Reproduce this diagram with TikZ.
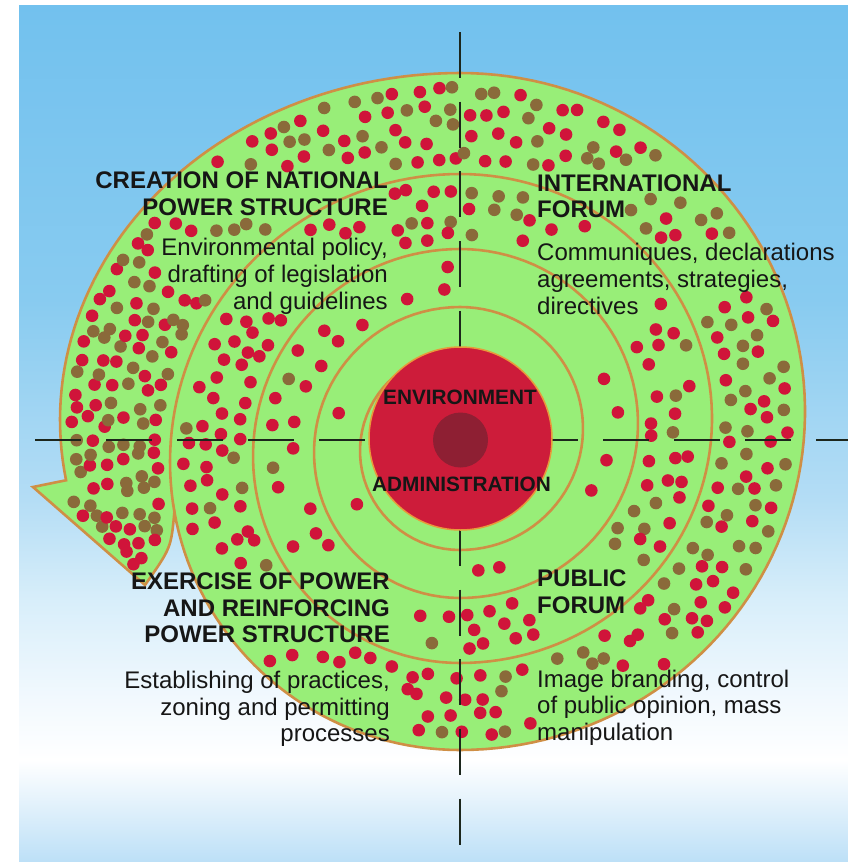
\documentclass[tikz,border=0pt]{standalone}
\usepackage{fontspec}
\setmainfont{Liberation Sans}
\definecolor{bgtop}{HTML}{72C1EE}
\definecolor{bgD}{HTML}{88CBF0}
\definecolor{bgC}{HTML}{B4DDF5}
\definecolor{bgB}{HTML}{D8EEFA}
\definecolor{bgA}{HTML}{F2F9FE}
\definecolor{bgbot}{HTML}{BDE0F7}
\definecolor{bandgreen}{HTML}{98EE78}
\definecolor{ringorange}{HTML}{CF8F45}
\definecolor{dotred}{HTML}{D0143A}
\definecolor{dotbrown}{HTML}{8A6A3A}
\definecolor{diskred}{HTML}{CD1C3A}
\definecolor{diskedge}{HTML}{E89A3A}
\definecolor{corered}{HTML}{8E1F33}
\definecolor{crossdark}{HTML}{1C261C}
\definecolor{txtdark}{HTML}{161616}
\pgfdeclareverticalshading{skybg}{100bp}{color(0bp)=(bgbot); color(25bp)=(bgbot); color(30.9bp)=(white); color(34.4bp)=(bgA); color(40.2bp)=(bgB); color(46.1bp)=(bgC); color(57.8bp)=(bgD); color(75bp)=(bgtop); color(100bp)=(bgtop)}

\newdimen\dotX \newdimen\dotY
\newif\ifdotin
\newcommand\chkbox[4]{\ifdim\dotX>#1pt\relax\ifdim\dotX<#2pt\relax\ifdim\dotY>#3pt\relax\ifdim\dotY<#4pt\relax\dotintrue\fi\fi\fi\fi}
\newcommand\placedot[3]{%
  \dotX=#1pt\relax\dotY=#2pt\relax\dotinfalse
  \chkbox{87}{394}{167}{196}\chkbox{136}{394}{194}{222}\chkbox{155}{394}{235}{264}%
  \chkbox{162}{394}{262}{291}\chkbox{221}{394}{288}{318}%
  \chkbox{531}{739}{170}{199}\chkbox{531}{631}{196}{224}\chkbox{531}{844}{239}{269}%
  \chkbox{531}{796}{266}{296}\chkbox{531}{646}{293}{323}%
  \chkbox{122}{396}{568}{596}\chkbox{154}{396}{595}{623}\chkbox{136}{396}{622}{650}%
  \chkbox{117}{396}{667}{697}\chkbox{152}{396}{694}{724}\chkbox{276}{396}{721}{750}%
  \chkbox{531}{631}{565}{594}\chkbox{531}{631}{592}{620}\chkbox{531}{796}{666}{696}%
  \chkbox{531}{791}{692}{722}\chkbox{531}{681}{719}{749}%
  \ifdotin\else
    \ifdim#3pt<\pbrown pt\relax
      \fill[dotbrown] (#1,#2) circle[radius=6.3];%
    \else
      \fill[dotred] (#1,#2) circle[radius=6.3];%
    \fi
  \fi}
% #1 cyo #2 rxo #3 ryo #4 cyi #5 rxi #6 ryi #7 th0 #8 th1 #9 width
\newcommand\banddots[9]{%
 \pgfmathtruncatemacro\bdN{max(1,round(#9/\dsp))}%
 \foreach \bj in {1,...,\bdN}{%
   \pgfmathsetmacro\bdT{(7+(#9-14)*(\bj-0.5)/\bdN)/#9}%
   \pgfmathsetmacro\bdR{(1-\bdT)*(#2+#3)/2+\bdT*(#5+#6)/2}%
   \pgfmathsetmacro\bdL{((#8-#7)*pi/180)}%
   \pgfmathtruncatemacro\bdM{max(1,round(\bdR*\bdL/\dsp))}%
   \foreach \bi in {1,...,\bdM}{%
     \pgfmathsetmacro\bdA{#7+(\bi-0.5+0.25*(2*mod(\bj,2)-1)+0.3*rand)*(#8-#7)/\bdM}%
     \pgfmathsetmacro\bdS{(7+(#9-14)*(\bj-0.5+0.22*rand)/\bdN)/#9}%
     \pgfmathsetmacro\dPx{460+((1-\bdS)*#2+\bdS*#5)*cos(\bdA)}%
     \pgfmathsetmacro\dPy{(1-\bdS)*(#1+#3*sin(\bdA))+\bdS*(#4+#6*sin(\bdA))}%
     \pgfmathsetmacro\dK{rnd}%
     \pgfmathsetmacro\dU{rnd}%
     \ifdim\dK pt<\pkeep pt\relax\placedot{\dPx}{\dPy}{\dU}\fi
   }%
 }%
}

\tikzset{
 spiralline/.style={draw=ringorange, line width=2.6pt},
 crossline/.style={draw=crossdark, line width=2.6pt},
 hdr/.style={font=\fontsize{24}{28}\selectfont\bfseries, text=txtdark, inner sep=0pt},
 bodytxt/.style={font=\fontsize{24}{28}\selectfont, text=txtdark, inner sep=0pt},
 ctrtxt/.style={font=\fontsize{20.8}{24}\selectfont\bfseries, text=txtdark, inner sep=0pt},
}

\begin{document}
\begin{tikzpicture}[x=1pt,y=-1pt]
\useasboundingbox (0,0) rectangle (848,862);
\fill[white] (0,0) rectangle (848,862);
\shade[shading=skybg] (19,5) rectangle (848,861);

\coordinate (tip) at (145,585);
\coordinate (barb) at (33,487);

% green spiral shape with arrowhead
\filldraw[spiralline, fill=bandgreen, line join=miter]
  plot[domain=-90:90,samples=90,variable=\t] ({460+345*cos(\t)},{411.5+338.5*sin(\t)})
  -- plot[domain=90:170,samples=40,variable=\t] ({460+290*cos(\t)},{462+288*sin(\t)})
  .. controls (171,548) .. (tip)
  -- (barb)
  -- plot[domain=170:270,samples=60,variable=\t] ({460+400*cos(\t)},{420+347*sin(\t)})
  -- cycle;

% inner spiral turns
\draw[spiralline]
  plot[domain=170:270,samples=50,variable=\t] ({460+290*cos(\t)},{462+288*sin(\t)})
  -- plot[domain=-90:90,samples=80,variable=\t] ({460+252*cos(\t)},{418.5+244.5*sin(\t)})
  -- plot[domain=90:270,samples=70,variable=\t] ({460+207*cos(\t)},{456+207*sin(\t)})
  -- plot[domain=-90:90,samples=60,variable=\t] ({460+178*cos(\t)},{423.5+174.5*sin(\t)})
  -- plot[domain=90:270,samples=50,variable=\t] ({460+146*cos(\t)},{452.5+145.5*sin(\t)})
  -- plot[domain=-90:90,samples=50,variable=\t] ({460+123*cos(\t)},{428.5+121.5*sin(\t)})
  -- plot[domain=90:270,samples=40,variable=\t] ({460+100*cos(\t)},{451+99*sin(\t)});

% dots
\pgfmathsetseed{4242}
\def\pkeep{0.93}\def\pbrown{0.47}\def\dsp{17}
\banddots{420}{400}{347}{462}{290}{288}{170}{232}{110}
\def\dsp{19}\def\pbrown{0.42}
\banddots{420}{400}{347}{462}{290}{288}{232}{270}{101}
\def\dsp{21.5}\def\pbrown{0.36}\def\pkeep{0.92}
\banddots{411.5}{345}{338.5}{418.5}{252}{244.5}{-90}{0}{94}
\def\pbrown{0.45}
\banddots{411.5}{345}{338.5}{418.5}{252}{244.5}{0}{90}{94}
\def\dsp{21.5}\def\pbrown{0.15}\def\pkeep{0.92}
\banddots{462}{290}{288}{456}{207}{207}{90}{270}{82}
\def\dsp{23}\def\pbrown{0.28}\def\pkeep{0.88}
\banddots{418.5}{252}{244.5}{423.5}{178}{174.5}{-90}{90}{71}
\def\dsp{29}\def\pbrown{0.08}\def\pkeep{0.85}
\banddots{456}{207}{207}{452.5}{146}{145.5}{90}{270}{61}
\def\dsp{40}\def\pbrown{0.05}\def\pkeep{0.45}
\banddots{423.5}{178}{174.5}{428.5}{123}{121.5}{-90}{90}{54}
\def\pkeep{0.4}
\banddots{452.5}{146}{145.5}{451}{100}{99}{90}{270}{46}
% arrowhead dots
\def\pkeep{0.95}\def\pbrown{0.47}
\foreach \gi in {0,...,9}{\foreach \gk in {0,...,7}{%
  \pgfmathsetmacro\dPx{36+\gi*14.5+4.3*rand+7.25*mod(\gk,2)}%
  \pgfmathsetmacro\dPy{490+\gk*13+3.9*rand}%
  \pgfmathsetmacro\cA{(141*(\dPy-487)-25*(\dPx-33))/143.2}%
  \pgfmathsetmacro\cB{(-29*(\dPy-512)-73*(\dPx-174))/78.5}%
  \pgfmathsetmacro\cC{(-112*(\dPy-585)+98*(\dPx-145))/148.8}%
  \pgfmathsetmacro\dU{rnd}%
  \ifdim\cA pt>6.5pt\relax\ifdim\cB pt>6.5pt\relax\ifdim\cC pt>6.5pt\relax\placedot{\dPx}{\dPy}{\dU}\fi\fi\fi
}}

% cross hair
\coordinate (hL) at (35,440);
\coordinate (hR) at (848,440);
\coordinate (vT) at (460,32);
\coordinate (vB) at (460,848);
\draw[crossline, dash pattern=on 46pt off 25pt] (hL) -- (hR);
\draw[crossline, dash pattern=on 46pt off 23.7pt] (vT) -- (vB);

% centre
\node[circle, fill=diskred, draw=diskedge, line width=1.5pt, minimum size=183pt, inner sep=0pt] (disk) at (460.5,438.5) {};
\node[circle, fill=corered, minimum size=55pt, inner sep=0pt] (core) at (460.5,440) {};
\node[ctrtxt, anchor=base] (env) at (460,404.5) {ENVIRONMENT};
\node[ctrtxt, anchor=base] (adm) at (461.5,491.5) {ADMINISTRATION};

% texts
\node[hdr, anchor=base east] (tlh1) at (388,188.5) {CREATION OF NATIONAL};
\node[hdr, anchor=base east] (tlh2) at (388,215) {POWER STRUCTURE};
\node[bodytxt, anchor=base east] (tlb1) at (388,255.7) {Environmental policy,};
\node[bodytxt, anchor=base east] (tlb2) at (388,282.5) {drafting of legislation};
\node[bodytxt, anchor=base east] (tlb3) at (388,309) {and guidelines};
\node[hdr, anchor=base west] (trh1) at (537,191.7) {INTERNATIONAL};
\node[hdr, anchor=base west] (trh2) at (537,217.3) {FORUM};
\node[bodytxt, anchor=base west] (trb1) at (537,260) {Communiques, declarations};
\node[bodytxt, anchor=base west] (trb2) at (537,287) {agreements, strategies,};
\node[bodytxt, anchor=base west] (trb3) at (537,314) {directives};
\node[hdr, anchor=base east] (blh1) at (390,589.3) {EXERCISE OF POWER};
\node[hdr, anchor=base east] (blh2) at (390,616) {AND REINFORCING};
\node[hdr, anchor=base east] (blh3) at (390,642.7) {POWER STRUCTURE};
\node[bodytxt, anchor=base east] (blb1) at (390,688.3) {Establishing of practices,};
\node[bodytxt, anchor=base east] (blb2) at (390,715) {zoning and permitting};
\node[bodytxt, anchor=base east] (blb3) at (390,741.7) {processes};
\node[hdr, anchor=base west] (brh1) at (537,586.7) {PUBLIC};
\node[hdr, anchor=base west] (brh2) at (537,613.3) {FORUM};
\node[bodytxt, anchor=base west] (brb1) at (537,687.3) {Image branding, control};
\node[bodytxt, anchor=base west] (brb2) at (537,713.3) {of public opinion, mass};
\node[bodytxt, anchor=base west] (brb3) at (537,740) {manipulation};
\end{tikzpicture}
\end{document}
